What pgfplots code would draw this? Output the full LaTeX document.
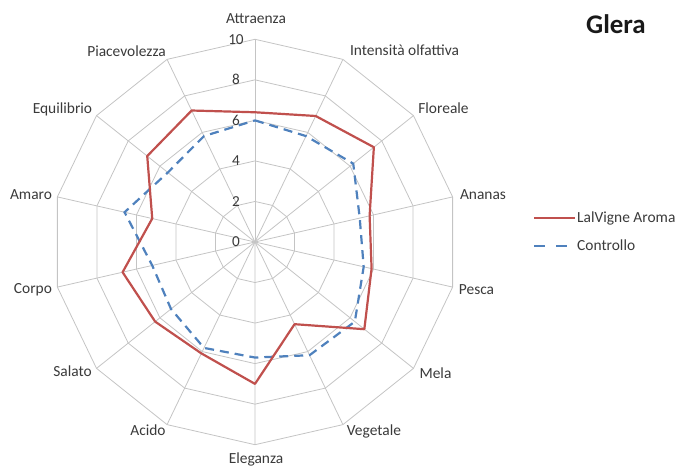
\documentclass[border=0pt]{standalone}
\usepackage{pgfplots}
\pgfplotsset{compat=1.18}
\usepgfplotslibrary{polar}
\usepackage{fontspec}
\setmainfont{Carlito}
\definecolor{redl}{HTML}{C0504D}
\definecolor{bluel}{HTML}{4F81BD}
\definecolor{gridc}{HTML}{C4C4C4}
\definecolor{txt}{HTML}{3A3A3A}
\begin{document}
\begin{tikzpicture}[x=1bp,y=1bp]
\useasboundingbox (-255,-226) rectangle (423,242);
\begin{polaraxis}[
  at={(0,0)}, anchor=center,
  scale only axis, width=405.4bp, height=405.4bp,
  xmin=0, xmax=360, ymin=0, ymax=10,
  axis line style={draw=none},
  xtick=\empty, ytick=\empty,
  clip=false, no markers,
]
\pgfplotsinvokeforeach{2,4,6,8,10}{
  \addplot[gridc, line width=0.8bp, samples at={0,...,14}] ({90-x*360/14},{#1});
}
\pgfplotsinvokeforeach{0,...,13}{
  \draw[gridc, line width=0.8bp] (axis cs:0,0) -- (axis cs:{90-#1*360/14},10);
}
\pgfplotsinvokeforeach{0,2,4,6,8,10}{
  \node[txt, font=\fontsize{15.3}{18}\selectfont, xshift=-19bp, inner sep=0pt] at (axis cs:90,#1) {#1};
}
% Controllo
\addplot[bluel, line width=2.2bp, dash pattern=on 9bp off 6bp] coordinates {
 (90,6.0) (64.2857,5.8) (38.5714,6.2) (12.8571,5.3) (347.1429,5.5) (321.4286,6.3)
 (295.7143,6.2) (270,5.7) (244.2857,5.8) (218.5714,5.3) (192.8571,5.2)
 (167.1429,6.6) (141.4286,5.5) (115.7143,5.8) (90,6.0)};
% LalVigne Aroma
\addplot[redl, line width=2.2bp, line join=round] coordinates {
 (90,6.4) (64.2857,6.9) (38.5714,7.5) (12.8571,5.8) (347.1429,5.9) (321.4286,6.9)
 (295.7143,4.5) (270,7.0) (244.2857,6.1) (218.5714,6.3) (192.8571,6.7)
 (167.1429,5.2) (141.4286,6.8) (115.7143,7.2) (90,6.4)};
\end{polaraxis}
\begin{scope}[every node/.style={txt, font=\fontsize{15.5}{18}\selectfont, inner sep=0pt, anchor=base}]
\node at (1,218) {Attraenza};
\node at (149.5,186) {Intensità olfattiva};
\node at (188.5,128) {Floreale};
\node at (228,42) {Ananas};
\node at (221.5,-53) {Pesca};
\node at (180.5,-137) {Mela};
\node at (119,-194) {Vegetale};
\node at (1,-221.5) {Eleganza};
\node at (-107,-194) {Acido};
\node at (-182.5,-135) {Salato};
\node at (-222,-52) {Corpo};
\node at (-224,42) {Amaro};
\node at (-192.5,128) {Equilibrio};
\node at (-128.5,185) {Piacevolezza};
\node[anchor=base west] at (322,19) {LalVigne Aroma};
\node[anchor=base west] at (322,-9) {Controllo};
\end{scope}
\node[anchor=base west, inner sep=0pt, font=\fontsize{27}{30}\selectfont\bfseries, black!90] at (331,208.7) {Glera};
\draw[redl, line width=2.2bp] (279,24) -- (320,24);
\draw[bluel, line width=2.2bp, dash pattern=on 11bp off 11bp] (279,-4) -- (320,-4);
\end{tikzpicture}
\end{document}
